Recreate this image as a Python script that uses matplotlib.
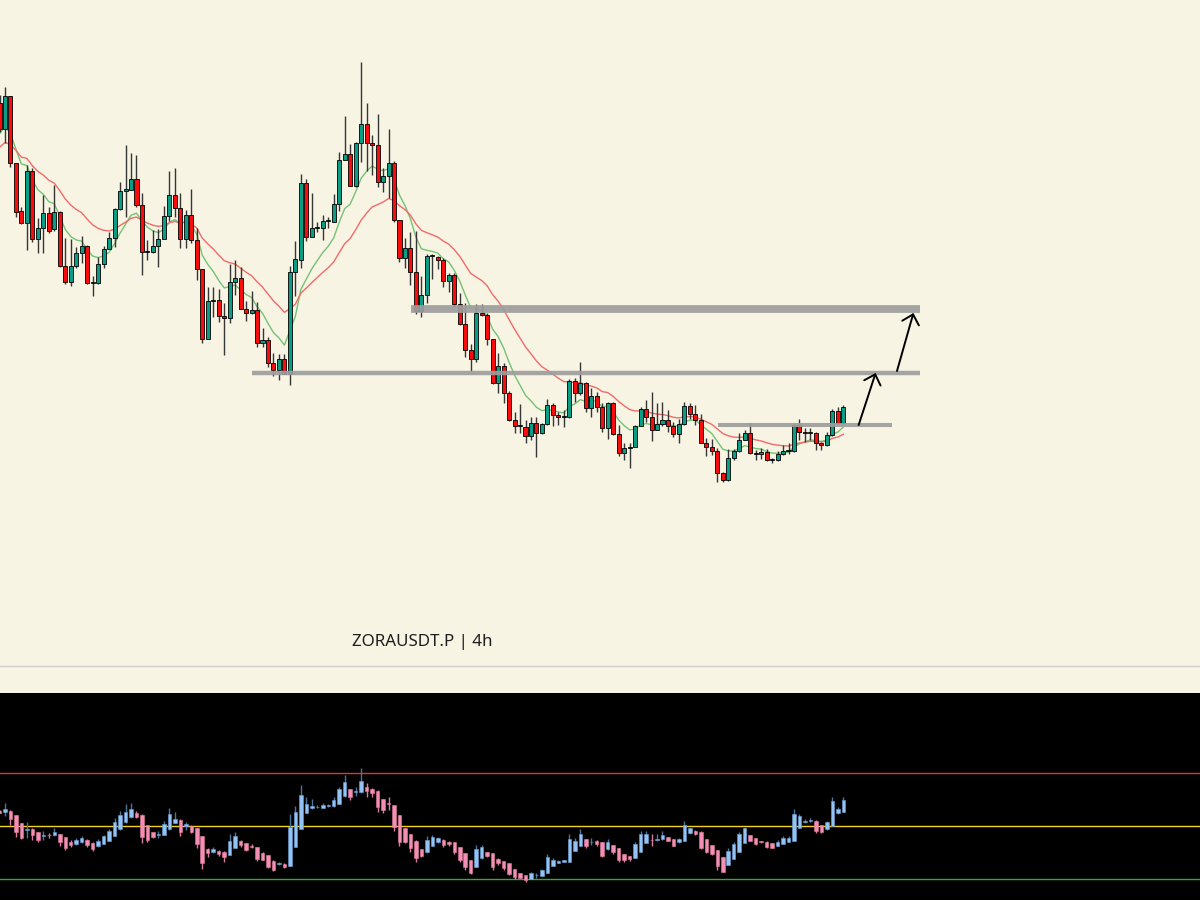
import numpy as np
import matplotlib.pyplot as plt
from matplotlib.lines import Line2D

# ZORAUSDT.P, 4h candles (price in 1e-4 USDT)
opens = [897, 871, 904, 837, 789, 777, 829, 761, 772, 787,
         771, 788, 734, 718, 734, 747, 754, 717, 717, 736,
         751, 762, 791, 809, 810, 821, 795, 748, 748, 754,
         761, 784, 805, 792, 761, 785, 760, 731, 661, 699,
         700, 684, 682, 718, 722, 691, 687, 690, 657, 660,
         637, 630, 641, 626, 728, 740, 817, 763, 772, 772,
         779, 778, 796, 840, 846, 814, 857, 876, 857, 855,
         818, 824, 837, 780, 742, 752, 728, 689, 705, 744,
         743, 740, 719, 725, 696, 676, 650, 641, 687, 685,
         661, 617, 634, 607, 580, 574, 573, 564, 577, 567,
         576, 595, 585, 583, 583, 619, 607, 617, 592, 604,
         593, 572, 597, 566, 547, 552, 553, 574, 591, 583,
         570, 576, 580, 574, 566, 576, 594, 586, 580, 557,
         553, 549, 527, 520, 542, 549, 560, 567, 547, 546,
         548, 540, 540, 546, 549, 549, 575, 568, 567, 567,
         557, 555, 565, 589, 577]
highs = [905, 913, 904, 837, 793, 835, 832, 782, 805, 793,
         815, 789, 762, 761, 753, 764, 755, 724, 743, 754,
         768, 792, 818, 855, 847, 845, 807, 760, 770, 771,
         794, 829, 832, 807, 790, 811, 772, 731, 713, 713,
         711, 697, 736, 740, 733, 699, 709, 698, 672, 663,
         647, 646, 646, 734, 759, 826, 821, 807, 778, 785,
         783, 806, 848, 884, 856, 858, 938, 897, 865, 886,
         832, 871, 839, 780, 762, 768, 769, 724, 746, 746,
         744, 742, 727, 727, 707, 697, 656, 696, 696, 687,
         661, 647, 637, 609, 588, 596, 580, 583, 583, 577,
         601, 597, 588, 590, 621, 622, 638, 618, 612, 608,
         597, 598, 598, 575, 557, 557, 575, 593, 600, 608,
         597, 598, 590, 578, 581, 598, 597, 595, 586, 562,
         561, 552, 528, 551, 551, 567, 570, 577, 550, 552,
         551, 542, 549, 555, 557, 577, 581, 572, 572, 568,
         558, 568, 591, 593, 595]
lows = [868, 857, 833, 783, 776, 750, 758, 747, 747, 767,
        769, 733, 716, 714, 732, 737, 716, 704, 716, 732,
        751, 753, 790, 783, 810, 793, 725, 740, 747, 733,
        761, 779, 783, 752, 752, 757, 720, 657, 661, 683,
        678, 645, 677, 705, 691, 679, 686, 653, 653, 633,
        624, 620, 626, 615, 704, 732, 759, 763, 768, 760,
        772, 778, 789, 840, 814, 813, 838, 829, 825, 813,
        808, 802, 778, 738, 732, 715, 686, 683, 697, 721,
        731, 713, 708, 693, 675, 643, 629, 638, 684, 655,
        616, 607, 597, 579, 567, 567, 557, 560, 543, 566,
        575, 574, 575, 573, 582, 598, 605, 588, 583, 588,
        568, 561, 565, 544, 540, 532, 553, 574, 578, 559,
        570, 574, 568, 563, 557, 575, 581, 575, 557, 544,
        545, 518, 518, 519, 540, 548, 560, 546, 540, 541,
        539, 537, 539, 545, 546, 548, 560, 558, 560, 550,
        550, 554, 564, 575, 576]
closes = [871, 904, 837, 788, 777, 829, 761, 772, 787, 769,
          788, 734, 718, 734, 747, 754, 717, 718, 736, 751,
          762, 791, 809, 811, 821, 795, 748, 748, 754, 761,
          784, 805, 792, 761, 785, 760, 731, 661, 699, 700,
          684, 682, 718, 722, 691, 687, 690, 657, 660, 637,
          630, 641, 626, 728, 741, 817, 763, 772, 773, 779,
          779, 796, 840, 846, 814, 857, 876, 857, 855, 818,
          824, 837, 780, 742, 752, 728, 689, 705, 744, 744,
          740, 719, 725, 696, 676, 650, 641, 687, 685, 661,
          617, 634, 607, 580, 574, 574, 564, 577, 567, 576,
          595, 585, 583, 583, 619, 607, 617, 592, 604, 593,
          572, 597, 566, 547, 552, 553, 574, 591, 583, 570,
          576, 580, 574, 566, 576, 594, 586, 580, 557, 553,
          549, 527, 520, 542, 549, 560, 567, 547, 546, 548,
          540, 540, 546, 549, 550, 575, 568, 567, 567, 557,
          555, 565, 589, 577, 593]

# EMA values at the left edge of the picture
ema_fast_seed = 865
ema_slow_seed = 851

# lower pane: Heikin-Ashi style RSI candles
osc_open = [55.8, 55.1, 55.8, 54.1, 51.0, 48.4, 48.8, 47.8, 46.4, 46.8,
            46.5, 47.0, 45.8, 44.0, 43.3, 43.9, 44.8, 43.8, 42.5, 43.3,
            44.5, 46.3, 48.8, 51.4, 53.3, 55.0, 54.1, 50.3, 47.6, 46.6,
            46.6, 48.8, 51.3, 52.4, 50.0, 49.9, 49.1, 46.3, 41.3, 40.1,
            40.8, 40.4, 39.1, 41.9, 44.4, 43.5, 42.5, 42.0, 40.0, 39.0,
            37.0, 35.6, 35.9, 35.0, 42.3, 48.8, 55.0, 56.6, 57.0, 56.9,
            57.4, 57.5, 58.4, 61.1, 63.8, 62.8, 62.6, 64.5, 64.0, 63.3,
            60.1, 58.6, 57.9, 54.1, 49.1, 47.0, 44.5, 41.4, 40.1, 42.6,
            43.9, 44.8, 44.1, 43.9, 42.0, 39.8, 37.3, 34.8, 37.9, 40.1,
            39.8, 37.5, 36.9, 36.0, 33.9, 32.3, 31.6, 30.1, 31.5, 31.3,
            32.3, 35.1, 36.3, 36.6, 36.4, 40.8, 42.6, 45.0, 43.9, 44.4,
            43.9, 41.3, 42.9, 41.6, 39.5, 38.8, 38.1, 40.4, 43.5, 44.9,
            44.8, 45.0, 45.8, 45.1, 43.9, 44.4, 47.3, 48.3, 47.9, 45.1,
            42.8, 41.0, 38.3, 35.4, 37.8, 40.4, 43.5, 46.5, 45.4, 44.4,
            44.1, 43.5, 42.6, 43.3, 44.1, 44.5, 49.4, 51.5, 51.8, 52.0,
            50.3, 48.8, 50.0, 54.8, 55.1]
osc_high = [56.0, 58.5, 56.0, 54.1, 51.0, 51.4, 49.1, 47.9, 48.3, 47.4,
            49.1, 47.1, 45.8, 44.8, 45.4, 46.3, 45.0, 43.9, 45.1, 46.8,
            48.8, 52.9, 55.6, 58.3, 58.5, 55.6, 54.5, 50.5, 47.8, 48.1,
            52.0, 56.8, 55.1, 52.6, 51.6, 50.4, 49.4, 46.4, 41.6, 42.0,
            41.0, 40.6, 47.0, 47.6, 44.8, 43.6, 43.1, 42.1, 40.1, 39.1,
            37.1, 36.6, 36.0, 54.5, 57.5, 65.4, 61.0, 60.0, 57.8, 58.5,
            58.4, 61.0, 64.8, 69.1, 63.9, 64.8, 71.6, 66.0, 64.1, 63.4,
            60.3, 60.8, 58.0, 54.3, 49.3, 47.1, 44.6, 41.5, 46.4, 46.5,
            45.8, 45.0, 44.3, 44.0, 42.1, 39.9, 37.4, 42.9, 42.9, 40.4,
            39.9, 38.1, 37.0, 36.1, 34.0, 32.4, 31.8, 32.9, 32.5, 33.9,
            39.4, 38.0, 37.3, 37.4, 47.0, 45.4, 48.8, 45.1, 45.4, 44.8,
            44.0, 45.1, 43.0, 41.8, 39.6, 38.9, 44.1, 48.3, 48.1, 46.9,
            46.9, 48.0, 45.9, 45.3, 45.5, 51.9, 49.3, 48.4, 48.0, 45.3,
            42.9, 41.1, 38.4, 41.9, 43.9, 47.6, 49.8, 46.6, 45.5, 44.5,
            44.3, 43.6, 44.8, 46.4, 46.3, 56.3, 54.5, 52.5, 52.9, 52.1,
            50.4, 51.9, 60.8, 57.3, 60.8]
osc_low = [54.8, 53.8, 50.4, 46.0, 45.3, 45.4, 44.8, 44.1, 44.8, 45.6,
           46.3, 42.5, 41.0, 42.0, 43.0, 43.8, 42.0, 40.8, 42.3, 43.1,
           44.5, 46.3, 48.5, 51.3, 53.1, 52.9, 43.5, 44.1, 45.5, 45.6,
           46.5, 48.5, 51.0, 46.4, 48.5, 47.5, 41.9, 33.9, 38.5, 39.8,
           38.9, 36.6, 39.0, 41.8, 42.0, 40.8, 41.6, 37.0, 37.1, 34.4,
           33.3, 35.3, 34.4, 35.0, 42.3, 48.8, 54.8, 56.4, 56.6, 56.6,
           57.3, 57.3, 58.4, 61.0, 59.8, 61.3, 62.5, 60.8, 60.8, 55.4,
           55.0, 56.0, 48.1, 42.6, 43.5, 40.4, 36.4, 38.5, 40.0, 42.5,
           43.8, 42.3, 42.5, 39.5, 36.6, 33.5, 32.0, 34.6, 37.6, 38.5,
           33.5, 35.4, 33.5, 31.6, 30.1, 30.4, 29.1, 30.0, 30.4, 31.3,
           32.3, 35.1, 36.0, 36.5, 36.4, 40.6, 42.6, 41.6, 42.9, 42.6,
           38.3, 41.0, 39.5, 36.4, 36.6, 37.0, 38.1, 40.4, 43.5, 42.5,
           44.5, 44.8, 44.4, 42.4, 43.8, 44.4, 47.1, 46.6, 41.3, 39.8,
           39.1, 33.5, 32.8, 35.4, 37.8, 40.4, 43.5, 44.4, 42.9, 43.8,
           41.9, 41.8, 42.5, 43.1, 44.1, 44.5, 49.4, 51.3, 51.6, 47.5,
           47.3, 48.5, 50.0, 54.5, 55.1]
osc_close = [55.0, 56.3, 52.5, 47.9, 45.6, 49.0, 46.6, 44.8, 46.8, 46.5,
             47.8, 44.1, 41.9, 42.8, 44.8, 45.5, 42.8, 41.5, 44.4, 46.3,
             48.1, 51.4, 54.1, 55.1, 56.5, 53.3, 45.8, 44.6, 45.8, 47.0,
             50.8, 54.5, 52.6, 47.6, 50.8, 47.9, 43.3, 36.3, 39.8, 41.3,
             39.4, 38.4, 44.5, 46.3, 42.9, 41.0, 42.3, 37.6, 37.3, 34.8,
             33.5, 36.0, 34.5, 49.8, 55.1, 61.6, 58.3, 57.5, 57.3, 57.8,
             58.0, 59.8, 63.8, 66.5, 61.0, 63.0, 66.9, 63.3, 62.5, 57.0,
             56.0, 58.4, 49.8, 44.1, 44.1, 41.9, 38.1, 38.9, 44.8, 45.8,
             45.4, 42.9, 43.3, 40.1, 37.3, 34.5, 32.3, 41.3, 42.0, 38.9,
             34.5, 36.3, 34.1, 32.0, 30.8, 30.6, 29.8, 32.3, 31.8, 33.5,
             38.3, 37.3, 37.0, 37.3, 45.1, 44.5, 47.0, 42.5, 44.1, 43.1,
             38.9, 43.9, 40.4, 37.3, 37.3, 37.6, 43.3, 47.0, 47.0, 44.6,
             45.3, 46.5, 44.5, 42.6, 45.1, 50.3, 49.1, 47.0, 41.6, 40.1,
             39.5, 35.0, 32.9, 40.8, 43.1, 47.0, 49.4, 44.5, 43.1, 43.9,
             42.0, 41.9, 44.1, 45.4, 45.6, 54.5, 53.8, 52.0, 52.3, 48.3,
             47.6, 51.4, 59.4, 56.3, 59.8]
osc_levels = [70, 50, 30]

# drawn levels: price, first bar, last bar
level_price = [691, 627, 575]
level_from = [75.1, 46.1, 131.1]
level_to = [168.0, 168.0, 162.9]

# arrows: (bar, price) start -> tip
arrow_start = [(156.8, 575), (163.8, 629)]
arrow_tip = [(159.9, 627), (166.8, 687)]


def ema(values, span, seed):
    a = 2.0 / (span + 1)
    e = seed
    out = []
    for v in values:
        e += a * (v - e)
        out.append(e)
    return out


bg = '#f8f4e3'
teal = '#0c9b85'
red = '#f80c0c'

o = np.array(opens, float)
h = np.array(highs, float)
l = np.array(lows, float)
c = np.array(closes, float)
x = np.arange(len(c))

fig = plt.figure(figsize=(12, 9), dpi=100, facecolor=bg)

# price pane
ax = fig.add_axes([0, 235 / 900, 1, 665 / 900])
ax.set_facecolor(bg)
ax.plot(x, ema(closes, 9, ema_fast_seed), color='#74c274', lw=1.0, zorder=1)
ax.plot(x, ema(closes, 21, ema_slow_seed), color='#f26a6a', lw=1.0, zorder=1)
ax.vlines(x, l, h, color='#363636', lw=1.0, zorder=2)
up = c >= o
ax.bar(x, np.maximum(np.abs(c - o), 0.9), bottom=np.minimum(o, c), width=0.74,
       color=np.where(up, teal, red), edgecolor='black', linewidth=0.6, zorder=3)

ax.hlines(level_price, level_from, level_to, colors='#9d9d9d',
          linewidths=[5.6, 3.2, 2.9], alpha=0.92, zorder=4)
for s, t in zip(arrow_start, arrow_tip):
    ax.annotate('', xy=t, xytext=s, zorder=5,
                arrowprops=dict(arrowstyle='->,head_length=0.65,head_width=0.62',
                                lw=1.4, color='black', shrinkA=0, shrinkB=0))

ax.set_xlim(0.09, 219.1)
ax.set_ylim(335, 1000)
ax.axis('off')

fig.add_artist(Line2D([0, 1], [1 - 666 / 900, 1 - 666 / 900], color='#cfcfcf',
                      lw=1.0, transform=fig.transFigure))
fig.text(352 / 1200, 1 - 641.5 / 900, 'ZORAUSDT.P | 4h', ha='left', va='center',
         fontsize=12.2, color='#1e1e1e', family=['Noto Sans', 'DejaVu Sans'])

# oscillator pane
ax2 = fig.add_axes([0, 0, 1, 207 / 900])
ax2.set_facecolor('black')
for lev, col in zip(osc_levels, ['#e0362e', '#f3d21c', '#3aa63a']):
    ax2.axhline(lev, color=col, lw=1.0, zorder=1)
oo = np.array(osc_open)
oc = np.array(osc_close)
oup = oc >= oo
ax2.vlines(x, osc_low, osc_high, colors=np.where(oup, '#4f7297', '#d67f9e'), lw=1.0, zorder=2)
ax2.bar(x, np.maximum(np.abs(oc - oo), 0.25), bottom=np.minimum(oo, oc), width=0.64,
        color=np.where(oup, '#92c3f4', '#f48fb4'), edgecolor=np.where(oup, '#6b9fd2', '#e07a9f'),
        linewidth=0.4, zorder=3)
ax2.set_xlim(0.09, 219.1)
ax2.set_ylim(22.25, 99.9)
ax2.set_xticks([])
ax2.set_yticks([])
for sp in ax2.spines.values():
    sp.set_visible(False)

fig.savefig('out.png', dpi=100, facecolor=bg)
